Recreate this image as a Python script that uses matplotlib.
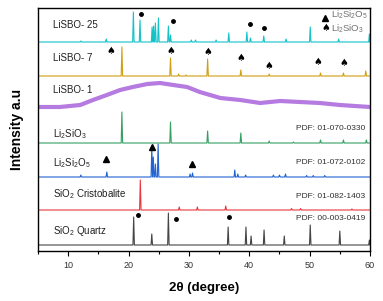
import matplotlib
matplotlib.use('Agg')
import matplotlib.pyplot as plt

plt.rcParams['font.family'] = ['Liberation Sans', 'DejaVu Sans']
plt.rcParams['mathtext.fontset'] = 'custom'
plt.rcParams['mathtext.rm'] = 'Liberation Sans'
plt.rcParams['mathtext.it'] = 'Liberation Sans:italic'
plt.rcParams['mathtext.bf'] = 'Liberation Sans:bold'

# peak positions (2theta) and heights, one set per pattern
quartz_pos = [20.85, 23.85, 26.6, 36.5, 39.45, 40.3, 42.45, 45.8, 50.1, 55.0, 59.9]
quartz_ht = [28, 11, 32, 18, 18, 9, 15, 9, 20, 14, 5]

crist_pos = [21.95, 28.4, 31.4, 36.1, 47.0, 48.5, 57.0]
crist_ht = [30, 3, 3, 4, 1.5, 1.5, 1]

li2si2o5_pos = [12.1, 16.4, 23.85, 24.1, 24.45, 24.9, 30.2, 30.6, 37.6, 38.1, 39.4,
                44.0, 45.0, 46.0, 49.5, 50.6, 52.5]
li2si2o5_ht = [2, 5, 30, 20, 13, 33, 3, 4, 7, 3, 2, 2, 2, 3, 1.5, 1.5, 1.5]

li2sio3_pos = [18.9, 26.95, 33.1, 38.6, 43.3, 47.3, 51.8, 55.6, 59.4]
li2sio3_ht = [31, 21, 12, 10, 2, 1, 3, 3, 3]

lisbo7_pos = [18.9, 26.95, 28.3, 29.5, 33.1, 38.6, 43.3, 51.8, 55.6, 59.3]
lisbo7_ht = [29, 18, 2, 1, 17, 6, 2, 3, 3, 5]

lisbo25_pos = [12.1, 16.3, 20.8, 21.9, 23.9, 24.15, 24.45, 24.95, 26.6, 26.95, 30.4,
               31.1, 34.5, 36.6, 39.6, 40.2, 42.4, 46.1, 50.1, 54.8, 59.9]
lisbo25_ht = [1, 3, 30, 22, 15, 16, 19, 24, 16, 7, 2, 2, 2, 9, 10, 4, 6, 3, 15, 3, 8]

# amorphous hump of LiSBO-1
lisbo1_x = [5.0, 5.3, 8.6, 12.0, 14.1, 16.4, 18.6, 20.7, 23.1, 25.2, 27.4, 29.7, 31.8,
            35.2, 38.5, 41.8, 45.1, 48.4, 51.7, 55.0, 60.0]
lisbo1_y = [144, 144, 144, 146, 151, 156, 161, 164, 167, 168, 166, 164, 159,
            153, 151, 148, 150, 149, 148, 146, 144]

labels = ['SiO$_\\mathregular{2}$ Quartz', 'SiO$_\\mathregular{2}$ Cristobalite',
          'Li$_\\mathregular{2}$Si$_\\mathregular{2}$O$_\\mathregular{5}$',
          'Li$_\\mathregular{2}$SiO$_\\mathregular{3}$', 'LiSBO- 1', 'LiSBO- 7', 'LiSBO- 25']
offsets = [6, 41, 74, 108, 144, 175, 209]
label_y = [20, 57, 88, 117, 161, 193, 226]
colors = ['#454545', '#e8363c', '#2262d2', '#35a063', '#b57be0', '#d09f12', '#14c2c8']

pdf_text = ['PDF: 00-003-0419', 'PDF: 01-082-1403', 'PDF: 01-072-0102', 'PDF: 01-070-0330']
pdf_y = [32, 55, 88, 123]

# marker positions (2theta, height)
quartz_dot_x = [21.5, 27.9, 36.6]
quartz_dot_y = [35.7, 31.7, 33.7]
tri_x = [16.3, 23.9, 30.5]
tri_y = [91.7, 104, 87]
spade_x = [17.1, 27.0, 33.1, 38.6, 43.3, 51.4, 55.7]
spade_y = [200.3, 200.3, 198.7, 193.3, 185.3, 188.7, 187.7]
lisbo25_dot_x = [22.1, 27.3, 40.1, 42.4]
lisbo25_dot_y = [236.7, 230.3, 227, 222.7]


def stick_trace(pos, hts, base, hw=0.12):
    xs, ys = [5.0], [base]
    for p, h in sorted(zip(pos, hts)):
        xs += [p - hw, p, p + hw]
        ys += [base, base + h, base]
    xs.append(60.0)
    ys.append(base)
    return xs, ys


fig = plt.figure(figsize=(3.83, 3.01), dpi=100)
ax = fig.add_axes([38 / 383, 1 - 251 / 301, 332 / 383, 243 / 301])

patterns = [(quartz_pos, quartz_ht), (crist_pos, crist_ht), (li2si2o5_pos, li2si2o5_ht),
            (li2sio3_pos, li2sio3_ht), None, (lisbo7_pos, lisbo7_ht), (lisbo25_pos, lisbo25_ht)]

for i, pat in enumerate(patterns):
    if pat is None:
        ax.plot(lisbo1_x, lisbo1_y, color=colors[i], lw=3.0, solid_capstyle='butt')
    else:
        xs, ys = stick_trace(pat[0], pat[1], offsets[i])
        ax.plot(xs, ys, color=colors[i], lw=0.8)
    ax.text(7.5, label_y[i], labels[i], fontsize=7, color='#202020', va='center', ha='left')

for t, y in zip(pdf_text, pdf_y):
    ax.text(59.2, y, t, fontsize=6, color='#303030', ha='right', va='center')

ax.plot(quartz_dot_x, quartz_dot_y, 'o', color='black', ms=2.5)
ax.plot(lisbo25_dot_x, lisbo25_dot_y, 'o', color='black', ms=2.5)
ax.plot(tri_x, tri_y, '^', color='black', ms=4.5)
for x, y in zip(spade_x, spade_y):
    ax.text(x, y, '\u2660', fontsize=7, ha='center', va='center',
            family=['DejaVu Sans'])

# legend in the top right corner
ax.plot([52.5], [232.7], '^', color='black', ms=4.5)
ax.text(52.7, 222.8, '\u2660', fontsize=7, ha='center', va='center', family=['DejaVu Sans'])
ax.text(53.5, 236.5, 'Li$_\\mathregular{2}$Si$_\\mathregular{2}$O$_\\mathregular{5}$',
        fontsize=6.8, color='#707070', va='center')
ax.text(53.5, 222.0, 'Li$_\\mathregular{2}$SiO$_\\mathregular{3}$',
        fontsize=6.8, color='#707070', va='center')

ax.set_xlim(5, 60)
ax.set_ylim(0, 243)
ax.set_xticks([10, 20, 30, 40, 50, 60])
ax.set_xticks([5, 15, 25, 35, 45, 55], minor=True)
ax.set_yticks([])
ax.tick_params(axis='x', which='major', length=3.5, width=0.8, labelsize=6.5,
               labelcolor='#333333', pad=4)
ax.tick_params(axis='x', which='minor', length=2, width=0.8)
for s in ax.spines.values():
    s.set_linewidth(1.0)

ax.set_xlabel('2\u03b8 (degree)', fontsize=9.5, fontweight='bold', labelpad=8)
ax.set_ylabel('Intensity a.u', fontsize=10, fontweight='bold', labelpad=10)

plt.savefig('out.png', dpi=100)
